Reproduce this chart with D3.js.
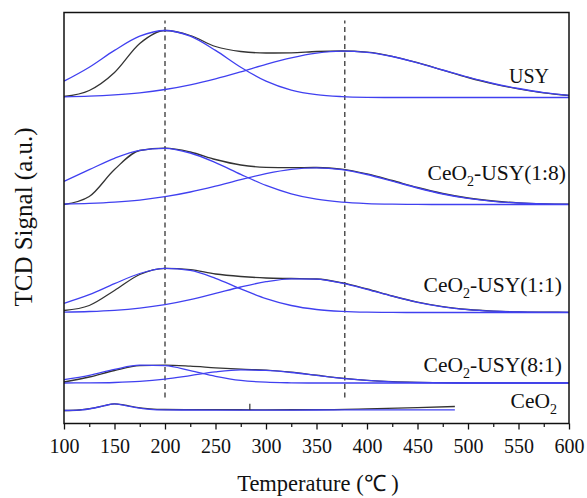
<!DOCTYPE html>
<html>
<head>
<meta charset="utf-8">
<script src="https://cdn.jsdelivr.net/npm/d3@7"></script>
<style>
	body { margin: 0; background: #fff; }
</style>
</head>
<body>
<div id="chart"></div>
<script>
// Temperature grid (°C) shared by the four zeolite samples
const temps = [100, 125, 150, 175, 200, 225, 250, 275, 300, 325, 350, 375, 400, 425, 450, 475, 500, 525, 550, 575, 600];

// Signal above each sample's own baseline (a.u.)
const usyTotal = [1, 7, 25, 54, 67, 62, 51, 46, 44.5, 44.7, 46, 46.5, 45.3, 41.2, 34.8, 27.4, 20, 13.6, 8.6, 4.6, 2];
const usyPeak1 = [16.3, 30.3, 47.1, 61.3, 67, 61.3, 47.1, 30.3, 16.3, 7.4, 2.8, 0.9, 0.2, 0, 0, 0, 0, 0, 0, 0, 0];
const usyPeak2 = [0.6, 1.3, 2.6, 4.7, 8, 12.7, 18.7, 25.7, 33.1, 39.6, 44.3, 46.3, 45.1, 41, 34.7, 27.5, 20.3, 14, 9, 4.9, 2.2];

const r18Total = [0, 8, 35, 54, 56.3, 52.5, 45, 39.5, 37.2, 36.8, 37, 35.4, 30.6, 24, 17, 11, 6.5, 3.5, 1.6, 0.7, 0.3];
const r18Peak1 = [23.2, 34.8, 46.2, 54.1, 56.2, 51.5, 41.9, 30.1, 19.1, 10.7, 5.3, 2.3, 0.9, 0.3, 0.1, 0, 0, 0, 0, 0, 0];
const r18Peak2 = [0.5, 1.1, 2.3, 4.4, 7.8, 12.5, 18.4, 24.9, 30.9, 35.2, 36.7, 34.9, 30, 23.4, 16.5, 10.5, 6.1, 3.2, 1.5, 0.6, 0.2];

const r11Total = [2, 7, 22, 38, 44.2, 42.8, 38.5, 36, 34.5, 34, 33.5, 29.8, 23.5, 16.5, 10.3, 5.8, 3, 1.4, 0.6, 0.3, 0.2];
const r11Peak1 = [9.2, 17.8, 28.8, 39, 44.1, 42.1, 34.2, 23.6, 13.9, 7, 3, 1.1, 0.3, 0.1, 0, 0, 0, 0, 0, 0, 0];
const r11Peak2 = [0.4, 1, 2.2, 4.4, 7.9, 12.9, 19.1, 25.5, 30.8, 33.7, 33.3, 29.4, 23.2, 16.3, 10.2, 5.7, 2.9, 1.3, 0.5, 0.2, 0.1];

const r81Total = [1, 6, 12.5, 17.3, 17.8, 16.8, 15.2, 13.8, 12.8, 10.8, 7.8, 4.9, 2.7, 1.3, 0.6, 0.3, 0.2, 0.1, 0.1, 0.1, 0.1];
const r81Peak1 = [3.3, 7.7, 13.6, 17.8, 17.3, 12.4, 6.7, 2.6, 0.8, 0.2, 0, 0, 0, 0, 0, 0, 0, 0, 0, 0, 0];
const r81Peak2 = [0, 0.1, 0.5, 1.6, 3.9, 7.4, 11.1, 13.1, 12.6, 10.5, 7.6, 4.7, 2.6, 1.2, 0.5, 0.2, 0, 0, 0, 0, 0];

// CeO2 was only recorded up to ~487 °C
const ceo2Temps = [100, 115, 130, 140, 150, 160, 170, 185, 200, 250, 300, 350, 400, 450, 487];
const ceo2Total = [0, 0.5, 2.6, 4.8, 6.7, 5.3, 3.4, 1.6, 1, 0.8, 0.7, 0.8, 1.6, 2.8, 4];
const ceo2Fit = [0, 0.4, 2.5, 4.8, 6.7, 5.2, 3.2, 1.2, 0.6, 0.4, 0.4, 0.5, 0.6, 0.7, 0.7];
const ceo2SpikeT = 284;
const ceo2SpikeTop = 6.7;

// Vertical offset of each trace (a.u.), top to bottom
const baselines = [326, 219, 111, 40.5, 13];

const guideTemps = [200, 378];
const guideExtent = [26, 403];

const majorTicks = [100, 150, 200, 250, 300, 350, 400, 450, 500, 550, 600];
const minorTicks = [125, 175, 225, 275, 325, 375, 425, 475, 525, 575];

const sampleLabels = [
	['USY'],
	['CeO', '2', '-USY(1:8)'],
	['CeO', '2', '-USY(1:1)'],
	['CeO', '2', '-USY(8:1)'],
	['CeO', '2', ''],
];

const BLUE = '#4040f0';
const BLACK = '#333';
const SERIF = '"Liberation Serif"';

const width = 587;
const height = 498;
const margin = {top: 12.5, right: 18, bottom: 74.5, left: 64};

const svg = d3
	.select('#chart')
	.append('svg')
	.attr('width', width)
	.attr('height', height);

const x = d3
	.scaleLinear()
	.domain([100, 600])
	.range([margin.left, width - margin.right]);

const y = d3
	.scaleLinear()
	.domain([0, 411])
	.range([height - margin.bottom, margin.top]);

const line = offset =>
	d3
		.line()
		.x(d => x(d[0]))
		.y(d => y(offset + d[1]))
		.curve(d3.curveMonotoneX);

const zip = (ts, vs) => ts.map((t, i) => [t, vs[i]]);

// dashed guides
svg
	.append('g')
	.selectAll('line')
	.data(guideTemps)
	.enter()
	.append('line')
	.attr('x1', d => x(d))
	.attr('x2', d => x(d))
	.attr('y1', y(guideExtent[0]))
	.attr('y2', y(guideExtent[1]))
	.attr('stroke', '#444')
	.attr('stroke-width', 1.4)
	.attr('stroke-dasharray', '5,3.5');

const samples = [
	{total: usyTotal, peaks: [usyPeak1, usyPeak2]},
	{total: r18Total, peaks: [r18Peak1, r18Peak2]},
	{total: r11Total, peaks: [r11Peak1, r11Peak2]},
	{total: r81Total, peaks: [r81Peak1, r81Peak2]},
];

const traces = svg.append('g').attr('fill', 'none');

samples.forEach((s, i) => {
	const l = line(baselines[i]);
	traces
		.append('path')
		.attr('d', l(zip(temps, s.total)))
		.attr('stroke', BLACK)
		.attr('stroke-width', 1.3);
	s.peaks.forEach(p => {
		traces
			.append('path')
			.attr('d', l(zip(temps, p)))
			.attr('stroke', BLUE)
			.attr('stroke-width', 1.3);
	});
});

// CeO2 trace
const ceo2Line = line(baselines[4]);
traces
	.append('path')
	.attr('d', ceo2Line(zip(ceo2Temps, ceo2Total)))
	.attr('stroke', BLACK)
	.attr('stroke-width', 1.3);
traces
	.append('path')
	.attr('d', ceo2Line(zip(ceo2Temps, ceo2Fit)))
	.attr('stroke', BLUE)
	.attr('stroke-width', 1.3);
traces
	.append('line')
	.attr('x1', x(ceo2SpikeT))
	.attr('x2', x(ceo2SpikeT))
	.attr('y1', y(baselines[4] + 0.5))
	.attr('y2', y(baselines[4] + ceo2SpikeTop))
	.attr('stroke', BLACK)
	.attr('stroke-width', 1.2);

// sample labels (right end x, baseline y, size)
const labelPos = [[549, 83, 20], [566, 180, 21.5], [562, 292, 21.5], [562, 372, 21.5], [557, 408, 21.5]];

sampleLabels.forEach((parts, i) => {
	const t = svg
		.append('text')
		.attr('x', labelPos[i][0])
		.attr('y', labelPos[i][1])
		.attr('text-anchor', 'end')
		.attr('fill', '#111')
		.attr('font-size', labelPos[i][2])
		.style('font-family', SERIF);
	t.append('tspan').style('font-family', SERIF).text(parts[0]);
	if (parts.length > 1) {
		t.append('tspan')
			.style('font-family', SERIF)
			.attr('font-size', 14)
			.attr('dy', 6)
			.text(parts[1]);
		t.append('tspan')
			.style('font-family', SERIF)
			.attr('dy', -6)
			.text(parts[2]);
	}
});

// axis
const xAxis = svg
	.append('g')
	.attr('transform', `translate(0,${height - margin.bottom})`)
	.call(
		d3
			.axisBottom(x)
			.tickValues(majorTicks)
			.tickSize(6)
			.tickPadding(9)
			.tickFormat(d3.format('d'))
	);
xAxis.select('.domain').remove();
xAxis.selectAll('line').attr('stroke', '#111').attr('stroke-width', 1.3);
xAxis
	.selectAll('text')
	.attr('font-size', 20)
	.attr('fill', '#111')
	.style('font-family', SERIF);

const minorAxis = svg
	.append('g')
	.attr('transform', `translate(0,${height - margin.bottom})`)
	.call(d3.axisBottom(x).tickValues(minorTicks).tickSize(3.5).tickFormat(''));
minorAxis.select('.domain').remove();
minorAxis.selectAll('line').attr('stroke', '#111').attr('stroke-width', 1.2);

// frame
svg
	.append('rect')
	.attr('x', margin.left)
	.attr('y', margin.top)
	.attr('width', width - margin.left - margin.right)
	.attr('height', height - margin.top - margin.bottom)
	.attr('fill', 'none')
	.attr('stroke', '#111')
	.attr('stroke-width', 1.5);

// titles
svg
	.append('text')
	.attr('x', 318)
	.attr('y', 491)
	.attr('text-anchor', 'middle')
	.attr('font-size', 22.5)
	.attr('fill', '#111')
	.style('font-family', SERIF)
	.text('Temperature (℃ )');

svg
	.append('text')
	.attr('transform', 'translate(32,217) rotate(-90)')
	.attr('text-anchor', 'middle')
	.attr('font-size', 25)
	.attr('fill', '#111')
	.style('font-family', SERIF)
	.text('TCD Signal (a.u.)');
</script>
</body>
</html>
